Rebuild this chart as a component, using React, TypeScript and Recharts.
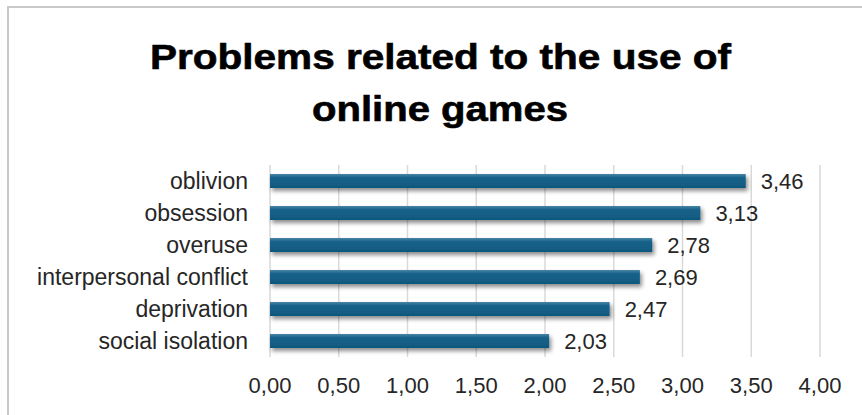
import React from "react";
import { BarChart, Bar, XAxis, YAxis, CartesianGrid, LabelList } from "recharts";

const categories = ["oblivion", "obsession", "overuse", "interpersonal conflict", "deprivation", "social isolation"];
const values = [3.46, 3.13, 2.78, 2.69, 2.47, 2.03];
const xTicks = [0, 0.5, 1, 1.5, 2, 2.5, 3, 3.5, 4];
const titleLines = ["Problems related to the use of", "online games"];

const data = categories.map((name, i) => ({ name, value: values[i] }));
const fmt = (v: number) => Number(v).toFixed(2).replace(".", ",");

export default function App() {
  return (
    <div style={{ position: "absolute", left: 0, top: 0, width: 862, height: 415, background: "#fff", overflow: "hidden" }}>
      <div
        style={{
          position: "absolute",
          left: 7,
          top: 6,
          width: 870,
          height: 420,
          borderTop: "2px solid #c9c9c9",
          borderLeft: "2px solid #c9c9c9",
        }}
      />
      <svg style={{ position: "absolute", left: 0, top: 0 }} width={862} height={140}>
        <text
          x={440.5}
          y={69}
          textAnchor="middle"
          fontFamily="'Liberation Sans', Arial, sans-serif"
          fontWeight="bold"
          fontSize={35}
          fill="#000"
          stroke="#000"
          strokeWidth={0.6}
          textLength={581}
          lengthAdjust="spacingAndGlyphs"
        >
          {titleLines[0]}
        </text>
        <text
          x={440}
          y={121}
          textAnchor="middle"
          fontFamily="'Liberation Sans', Arial, sans-serif"
          fontWeight="bold"
          fontSize={35}
          fill="#000"
          stroke="#000"
          strokeWidth={0.6}
          textLength={256}
          lengthAdjust="spacingAndGlyphs"
        >
          {titleLines[1]}
        </text>
      </svg>
      <div style={{ position: "absolute", left: 0, top: 0 }}>
        <BarChart
          width={862}
          height={415}
          data={data}
          layout="vertical"
          margin={{ top: 165, right: 42, bottom: 18, left: 0 }}
          barCategoryGap={9}
        >
          <defs>
            <linearGradient id="barGrad" x1="0" y1="0" x2="0" y2="1">
              <stop offset="0%" stopColor="#4a86a8" />
              <stop offset="25%" stopColor="#1a628a" />
              <stop offset="100%" stopColor="#0f5880" />
            </linearGradient>
            <filter id="barShadow" x="-5%" y="-50%" width="110%" height="250%">
              <feDropShadow dx="2" dy="3" stdDeviation="2" floodColor="#000" floodOpacity="0.45" />
            </filter>
          </defs>
          <CartesianGrid horizontal={false} vertical={true} stroke="#d9d9d9" strokeWidth={1.5} />
          <XAxis
            type="number"
            domain={[0, 4]}
            ticks={xTicks}
            tickFormatter={fmt}
            axisLine={false}
            tickLine={false}
            tickSize={0}
            tickMargin={20}
            height={40}
            interval={0}
            tick={{ fontSize: 22, fill: "#262626", fontFamily: "'Liberation Sans', Arial, sans-serif" }}
          />
          <YAxis
            type="category"
            dataKey="name"
            width={270}
            axisLine={false}
            tickLine={false}
            tickSize={0}
            tickMargin={22}
            interval={0}
            tick={{ fontSize: 23, fill: "#262626", fontFamily: "'Liberation Sans', Arial, sans-serif" }}
          />
          <Bar
            dataKey="value"
            fill="url(#barGrad)"
            barSize={14}
            isAnimationActive={false}
            style={{ filter: "url(#barShadow)" }}
          >
            <LabelList
              dataKey="value"
              position="right"
              offset={15}
              formatter={(v: any) => fmt(v)}
              style={{ fontSize: 22, fill: "#262626", fontFamily: "'Liberation Sans', Arial, sans-serif", filter: "none" }}
            />
          </Bar>
        </BarChart>
      </div>
    </div>
  );
}
